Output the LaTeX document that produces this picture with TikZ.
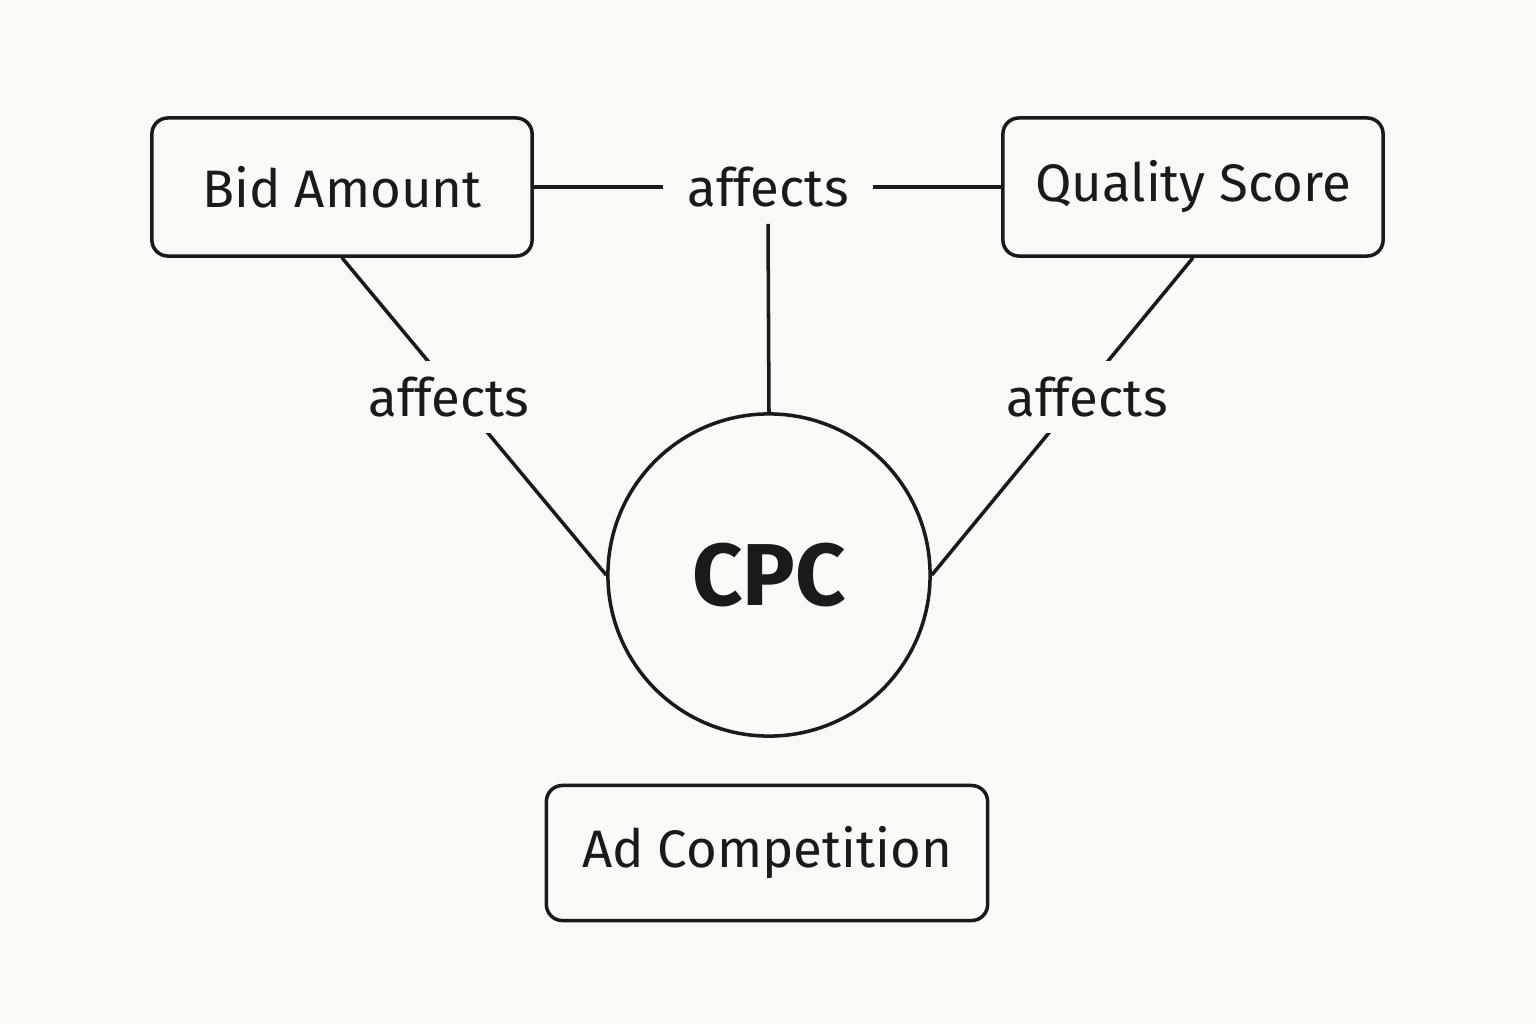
\documentclass[tikz,border=0pt]{standalone}
\usepackage{fontspec}
\setmainfont{Fira Sans}
\definecolor{bg}{HTML}{FAF9F5}
\definecolor{ink}{HTML}{1A1A1A}
\begin{document}
\begin{tikzpicture}[x=0.01cm,y=-0.01cm,
  box/.style={draw=ink,line width=1pt,rounded corners=0.16cm,minimum width=3.8cm,minimum height=1.38cm,inner sep=0pt,font=\fontsize{15}{18}\selectfont,text=ink},
  lbl/.style={fill=bg,font=\fontsize{15}{18}\selectfont,text=ink,inner xsep=0.24cm,inner ysep=0.16cm},
  conn/.style={draw=ink,line width=1pt}]
\fill[bg] (0,0) rectangle (1536,1024);
\node[box] (ba) at (342,187) {Bid Amount};
\node[box] (qs) at (1193,187) {Quality Score};
\node[box,minimum width=4.41cm,minimum height=1.35cm] (ac) at (767,853) {Ad Competition};
\node[draw=ink,line width=1pt,circle,minimum size=3.22cm,font=\bfseries\fontsize{25}{30}\selectfont,text=ink] (cpc) at (769,575) {CPC};
\draw[conn] (ba.east) -- (qs.west);
\draw[conn] (ba.south) -- (cpc.west);
\draw[conn] (qs.south) -- (cpc.east);
\node[lbl] (lt) at (768,187) {affects};
\node[lbl] (ll) at (449,397) {affects};
\node[lbl] (lr) at (1087,397) {affects};
\draw[conn] (lt.south) -- (cpc.north);
\end{tikzpicture}
\end{document}
